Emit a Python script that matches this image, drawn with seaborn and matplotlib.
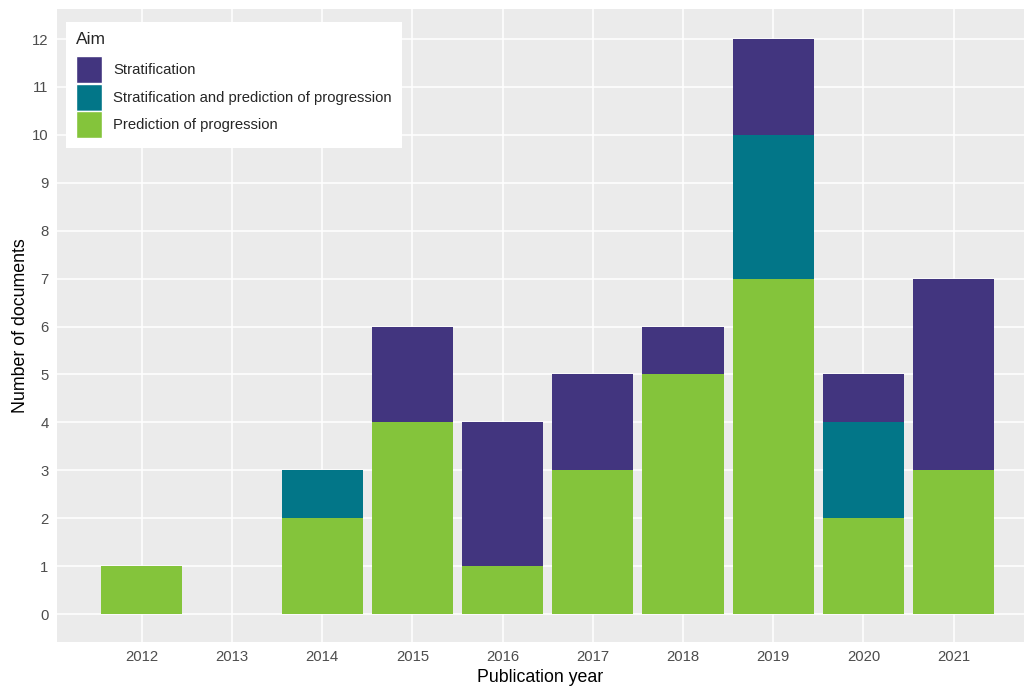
import matplotlib
matplotlib.use("Agg")
import matplotlib.pyplot as plt
import seaborn as sns
import pandas as pd
from matplotlib.patches import Patch

years = ["2012", "2013", "2014", "2015", "2016", "2017", "2018", "2019", "2020", "2021"]
prediction = [1, 0, 2, 4, 1, 3, 5, 7, 2, 3]
strat_pred = [0, 0, 1, 0, 0, 0, 0, 3, 2, 0]
stratification = [0, 0, 0, 2, 3, 2, 1, 2, 1, 4]

aims = ["Stratification", "Stratification and prediction of progression", "Prediction of progression"]
colors = ["#42357F", "#027688", "#84C43B"]

sns.set_theme(style="darkgrid", rc={"axes.facecolor": "#EBEBEB", "grid.color": "white"})
plt.rcParams["font.family"] = ["Liberation Sans", "DejaVu Sans"]

df = pd.DataFrame({"year": years, "P": prediction, "SP": strat_pred, "S": stratification})
df["top_S"] = df["P"] + df["SP"] + df["S"]
df["top_SP"] = df["P"] + df["SP"]
df["top_P"] = df["P"]

W, H = 1024, 689
fig = plt.figure(figsize=(W / 100, H / 100), dpi=100)
left, right, top, bottom = 56.7, 1024, 9.3, 641.7
ax = fig.add_axes([left / W, 1 - bottom / H, (right - left) / W, (bottom - top) / H])

for col, c in zip(["top_S", "top_SP", "top_P"], colors):
    sns.barplot(data=df, x="year", y=col, color=c, width=0.9, saturation=1,
                order=years, ax=ax, linewidth=0)

ax.set_xlim(-0.943, 9.78)
ax.set_ylim(-0.578, 12.62)
ax.set_yticks(range(0, 13))
ax.grid(True, color="white", linewidth=1.1)
ax.set_axisbelow(True)
for s in ax.spines.values():
    s.set_visible(False)
ax.tick_params(axis="both", which="major", length=3.4, width=0.8, color="#333333",
               labelsize=10.7, labelcolor="#4D4D4D", pad=2.5)
ax.set_xlabel("Publication year", fontsize=12.8, color="black", labelpad=4)
ax.set_ylabel("Number of documents", fontsize=12.8, color="black", labelpad=2)

handles = [Patch(facecolor=c, edgecolor="white", linewidth=1.0, label=a) for a, c in zip(aims, colors)]
leg = ax.legend(handles=handles, title="Aim", loc="upper left",
                bbox_to_anchor=(65.7 / W, 1 - 21.7 / H), bbox_transform=fig.transFigure,
                frameon=True, fancybox=False, framealpha=1, facecolor="white", edgecolor="white",
                fontsize=10.7, title_fontsize=12.5, handlelength=1.75, handleheight=2.4,
                labelspacing=0.05, handletextpad=0.75, borderpad=0.7, borderaxespad=0)
leg._legend_box.align = "left"
leg._legend_box.sep = 6.5
leg.get_frame().set_linewidth(0)

fig.savefig("out.png", dpi=100)
